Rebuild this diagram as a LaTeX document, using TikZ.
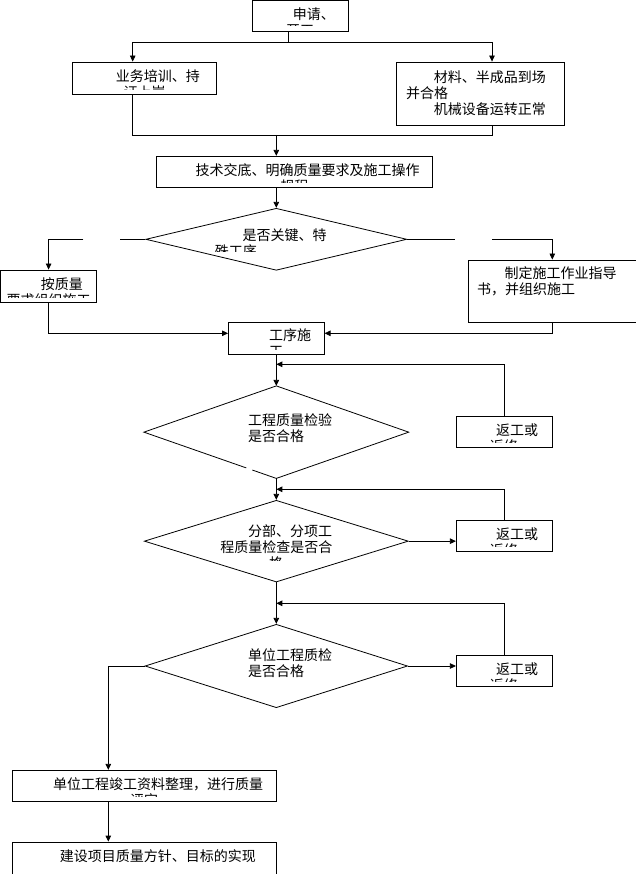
\documentclass[tikz,border=0pt]{standalone}
\usepackage{fontspec}
\newfontfamily\cjk{Noto Sans CJK SC}
\usetikzlibrary{shapes.geometric,arrows.meta,calc}
\begin{document}
\begin{tikzpicture}[x=1pt,y=-1pt,line width=0.8pt,
  box/.style={draw,rectangle,inner sep=0pt},
  dec/.style={diamond,inner sep=0pt},
  txt/.style={anchor=base west,inner sep=0pt,font=\cjk\fontsize{14pt}{16pt}\selectfont},
  arr/.style={-{Triangle[length=6pt,width=5.5pt]}}]
\useasboundingbox (0,0) rectangle (636,874);
\clip (0,0) rectangle (636,874);

% ---- nodes ----
\node[box,minimum width=96pt,minimum height=30.8pt] (start) at (300.3,15.9) {};
\node[box,minimum width=144.4pt,minimum height=32.3pt] (train) at (144.5,78.15) {};
\node[box,minimum width=168.4pt,minimum height=63.3pt] (mat) at (480.5,93.65) {};
\node[box,minimum width=276.4pt,minimum height=31pt] (tech) at (294.5,171.8) {};
\node[dec,draw,minimum width=261pt,minimum height=62pt] (d1) at (276.3,239.3) {};
\node[box,minimum width=96.2pt,minimum height=32.3pt] (pbox) at (48.6,286.15) {};
\node[box,minimum width=171pt,minimum height=62.3pt] (rbox) at (554.2,291.15) {};
\node[box,minimum width=95.7pt,minimum height=32.3pt] (proc) at (276.3,338.15) {};
\node[dec,minimum width=264pt,minimum height=91.7pt] (d2) at (276.3,432.15) {};
\node[box,minimum width=96pt,minimum height=31pt] (ret1) at (504.3,431.8) {};
\node[dec,draw,minimum width=264pt,minimum height=81.7pt] (d3) at (276.3,541.15) {};
\node[box,minimum width=96pt,minimum height=31pt] (ret2) at (504.3,535.8) {};
\node[dec,draw,minimum width=262.5pt,minimum height=83.4pt] (d4) at (276.3,666) {};
\node[box,minimum width=96pt,minimum height=31pt] (ret3) at (504.3,670.8) {};
\node[box,minimum width=264pt,minimum height=31pt] (fin1) at (144.3,785.8) {};
\node[box,minimum width=264pt,minimum height=34pt] (fin2) at (144.3,859) {};

% diamond 2 outline with a small gap
\draw (d2.north) -- (d2.east) -- (d2.south) -- ($(d2.south)!0.181!(d2.west)$)
      ($(d2.south)!0.227!(d2.west)$) -- (d2.west) -- (d2.north);

% ---- connectors ----
\coordinate (sp) at (288.3,42.3);
\coordinate (tA) at (132.7,42.3);
\coordinate (tB) at (492,42.3);
\draw (start.south -| sp) -- (sp);
\draw[arr] (sp) -- (tA) -- (tA |- train.north);
\draw[arr] (sp) -- (tB) -- (tB |- mat.north);
\coordinate (mg) at (276.3,135);
\draw (tA |- train.south) |- (tB |- mg) -- (tB |- mat.south);
\draw[arr] (mg) -- (mg |- tech.north);
\draw[arr] (mg |- tech.south) -- (d1.north);

\coordinate (gL1) at (120,239.3);
\coordinate (gL2) at (83.3,239.3);
\draw (d1.west) -- (gL1);
\draw[arr] (gL2) -| (pbox.north);
\coordinate (gR1) at (455.3,239.3);
\coordinate (gR2) at (492,239.3);
\coordinate (rx) at (552.3,0);
\draw (d1.east) -- (gR1);
\draw[arr] (gR2) -| (rx |- rbox.north);

\coordinate (jy) at (0,333.3);
\draw[arr] (pbox.south) |- (proc.west |- jy);
\draw[arr] (rx |- rbox.south) |- (proc.east |- jy);
\draw[arr] (proc.south) -- (d2.north);

\coordinate (fb1) at (276.3,364.3);
\draw[arr] (ret1.north) |- (fb1);
\draw[arr] (d2.south) -- (d3.north);
\coordinate (fb2) at (276.3,489.3);
\draw[arr] (ret2.north) |- (fb2);
\draw[arr] (d3.east) -- (d3.east -| ret2.west);
\draw[arr] (d3.south) -- (d4.north);
\coordinate (fb3) at (276.3,603.3);
\draw[arr] (ret3.north) |- (fb3);
\draw[arr] (d4.east) -- (d4.east -| ret3.west);
\coordinate (fx) at (108.3,0);
\draw[arr] (d4.west) -| (fx |- fin1.north);
\draw[arr] (fx |- fin1.south) -- (fx |- fin2.north);

% ---- texts ----
\begin{scope}
\clip (252,0) rectangle (349,26);
\node[txt] (t1a) at (292.5,19.8) {申请、};
\node[txt] (t1b) at (285.8,35.8) {开工};
\end{scope}
\begin{scope}
\clip (72,62) rectangle (217,89.3);
\node[txt] (t2a) at (115.5,82) {业务培训、持};
\node[txt] (t2b) at (123.2,98) {证上岗};
\end{scope}
\node[txt] (t3a) at (433.5,82.3) {材料、半成品到场};
\node[txt] (t3b) at (405.8,98.3) {并合格};
\node[txt] (t3c) at (433.5,114.3) {机械设备运转正常};
\begin{scope}
\clip (156,156) rectangle (433,182.3);
\node[txt] (t4a) at (195.2,176) {技术交底、明确质量要求及施工操作};
\node[txt] (t4b) at (280,192) {规程};
\end{scope}
\begin{scope}
\clip (146,208) rectangle (408,252);
\node[txt] (t5a) at (242.2,240.3) {是否关键、特};
\node[txt] (t5b) at (214.5,256.3) {殊工序};
\end{scope}
\begin{scope}
\clip (0,270) rectangle (97,297.3);
\node[txt] (t6a) at (40.5,289.3) {按质量};
\node[txt] (t6b) at (6.3,305.3) {要求组织施工};
\end{scope}
\node[txt] (t7a) at (504.2,278.6) {制定施工作业指导};
\node[txt] (t7b) at (476.8,294.6) {书，并组织施工};
\begin{scope}
\clip (228,322) rectangle (324,349.3);
\node[txt] (t8a) at (268.8,340.6) {工序施};
\node[txt] (t8b) at (268.8,356.6) {工};
\end{scope}
\node[txt] (t9a) at (247.8,425) {工程质量检验};
\node[txt] (t9b) at (247.8,441) {是否合格};
\begin{scope}
\clip (456,416) rectangle (553,442.3);
\node[txt] (t10a) at (495.8,435) {返工或};
\node[txt] (t10b) at (489.5,451) {返修};
\end{scope}
\begin{scope}
\clip (144,500) rectangle (408,560);
\node[txt] (t11a) at (247.8,536.3) {分部、分项工};
\node[txt] (t11b) at (220,552.3) {程质量检查是否合};
\node[txt] (t11c) at (268.8,568.3) {格};
\end{scope}
\begin{scope}
\clip (456,520) rectangle (553,546.3);
\node[txt] (t12a) at (495.8,539) {返工或};
\node[txt] (t12b) at (489.5,555) {返修};
\end{scope}
\node[txt] (t13a) at (247.8,660) {单位工程质检};
\node[txt] (t13b) at (247.8,676) {是否合格};
\begin{scope}
\clip (456,655) rectangle (553,681.3);
\node[txt] (t14a) at (495.8,674.3) {返工或};
\node[txt] (t14b) at (489.5,690.3) {返修};
\end{scope}
\begin{scope}
\clip (12,770) rectangle (277,796.3);
\node[txt] (t15a) at (52.8,789) {单位工程竣工资料整理，进行质量};
\node[txt] (t15b) at (129.8,805) {评定};
\end{scope}
\node[txt] (t16a) at (59.5,861.3) {建设项目质量方针、目标的实现};
\end{tikzpicture}
\end{document}
